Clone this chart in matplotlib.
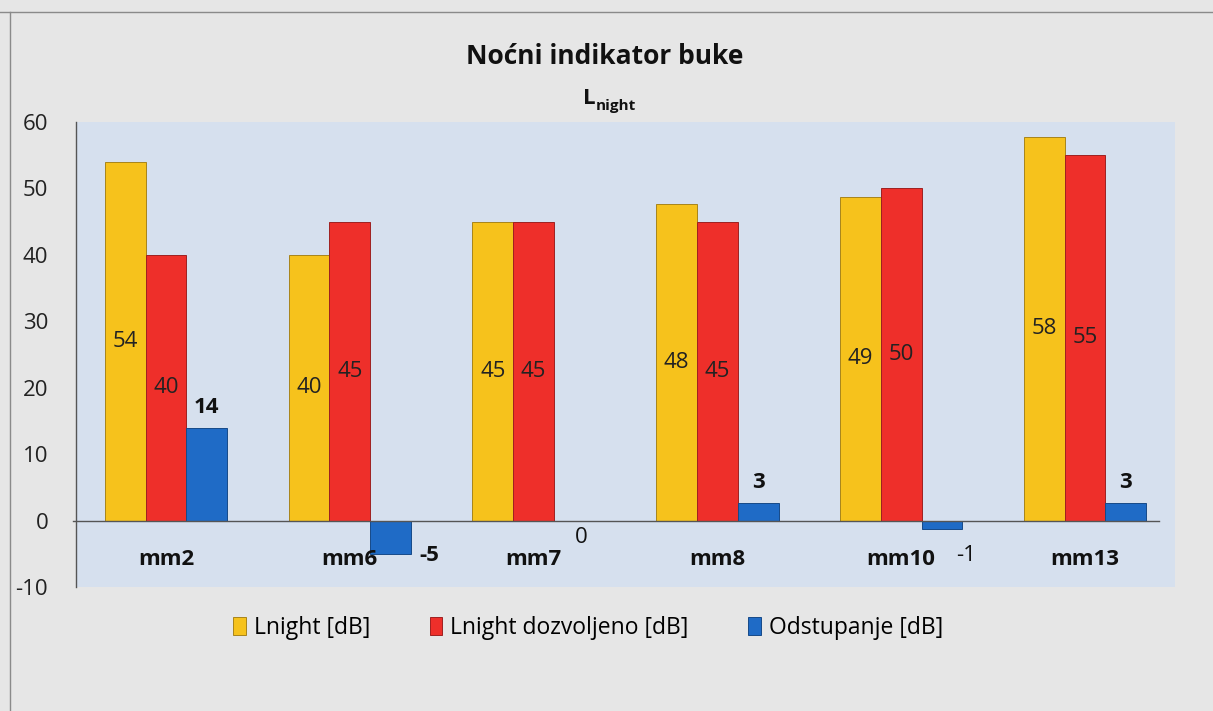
import matplotlib
matplotlib.use("Agg")
import matplotlib.pyplot as plt
import numpy as np

# ---- data ----
categories = ["mm2", "mm6", "mm7", "mm8", "mm10", "mm13"]
lnight = [54, 40, 45, 47.7, 48.7, 57.7]
lnight_allowed = [40, 45, 45, 45, 50, 55]
deviation = [14, -5, 0, 2.7, -1.3, 2.7]
series_names = ["Lnight [dB]", "Lnight dozvoljeno [dB]", "Odstupanje [dB]"]
y_ticks = [-10, 0, 10, 20, 30, 40, 50, 60]

# ---- style ----
FONT = "Open Sans"
plt.rcParams['font.family'] = [FONT, 'DejaVu Sans']
plt.rcParams['axes.unicode_minus'] = False
C_YEL = "#F6C21C"
C_RED = "#EE2F2A"
C_BLU = "#1F6BC6"
FIG_BG = "#E6E6E6"
AX_BG = "#D6E0EE"
FS = 16

fig = plt.figure(figsize=(12.13, 7.11), dpi=100)
fig.patch.set_facecolor(FIG_BG)
ax = fig.add_axes([76/1213, 1-587/711, (1175-76)/1213, (587-122)/711])
ax.set_facecolor(AX_BG)

x = np.arange(len(categories))
w = 0.222
b1 = ax.bar(x - w, lnight, w, color=C_YEL, edgecolor="#A8841A", linewidth=0.7, label=series_names[0], zorder=3)
b2 = ax.bar(x, lnight_allowed, w, color=C_RED, edgecolor="#9E2020", linewidth=0.7, label=series_names[1], zorder=3)
b3 = ax.bar(x + w, deviation, w, color=C_BLU, edgecolor="#164A88", linewidth=0.7, label=series_names[2], zorder=3)

ax.set_xlim(-0.49, len(categories) - 0.51)
ax.set_ylim(-10, 60)
ax.set_yticks(y_ticks)
ax.tick_params(axis='y', length=0, pad=20, labelsize=FS, labelcolor="#222222")
ax.set_xticks([])
for s in ["top", "right", "bottom"]:
    ax.spines[s].set_visible(False)
ax.spines["left"].set_color("#555555")
ax.spines["left"].set_linewidth(1.0)
ax.axhline(0, xmin=-0.003, xmax=0.985, color="#555555", linewidth=1.0, zorder=4, clip_on=False)

# category labels
for xi, c in zip(x, categories):
    ax.text(xi, -5.9, c, ha="center", va="center", fontsize=FS, fontweight="bold", color="#111111")

# inside labels
for bars, vals in ((b1, lnight), (b2, lnight_allowed)):
    for rect, v in zip(bars, vals):
        ax.text(rect.get_x() + rect.get_width()/2, v/2, f"{v:.0f}", ha="center", va="center",
                fontsize=FS, color="#222222", zorder=5)

# deviation labels (offsets in pixels -> points)
dev_offsets = [(0, 20, True), (39, -2, True), (7, -17, False), (0, 20, True), (24, -26, False), (0, 20, True)]
for rect, v, (dx, dy, bold) in zip(b3, deviation, dev_offsets):
    ax.annotate(f"{v:.0f}", xy=(rect.get_x() + rect.get_width()/2, v), xytext=(dx*0.72, dy*0.72),
                textcoords="offset points", ha="center", va="center", fontsize=FS,
                fontweight="bold" if bold else "normal", color="#111111", zorder=5)

# title
fig.text(605/1213, 1-57/711, "Noćni indikator buke", ha="center", va="center", fontsize=19,
         fontweight="bold", color="#111111")
fig.text(596/1213, 1-98/711, "L", ha="right", va="center", fontsize=16, fontweight="bold", color="#111111")
fig.text(596/1213, 1-106/711, "night", ha="left", va="center", fontsize=11, fontweight="bold", color="#111111")

# legend
leg = fig.legend(handles=[b1, b2, b3], labels=series_names, loc="center", bbox_to_anchor=(588/1213, 1-628/711),
                 ncol=3, frameon=False, fontsize=16.5, handlelength=0.55, handleheight=0.8,
                 handletextpad=0.35, columnspacing=2.6)

# scan border lines
fig.add_artist(plt.Line2D([0, 1], [1-12/711, 1-12/711], transform=fig.transFigure, color="#8a8a8a", lw=1))
fig.add_artist(plt.Line2D([10/1213, 10/1213], [0, 1-12/711], transform=fig.transFigure, color="#8a8a8a", lw=1))

fig.savefig("out.png", dpi=100, facecolor=FIG_BG)
